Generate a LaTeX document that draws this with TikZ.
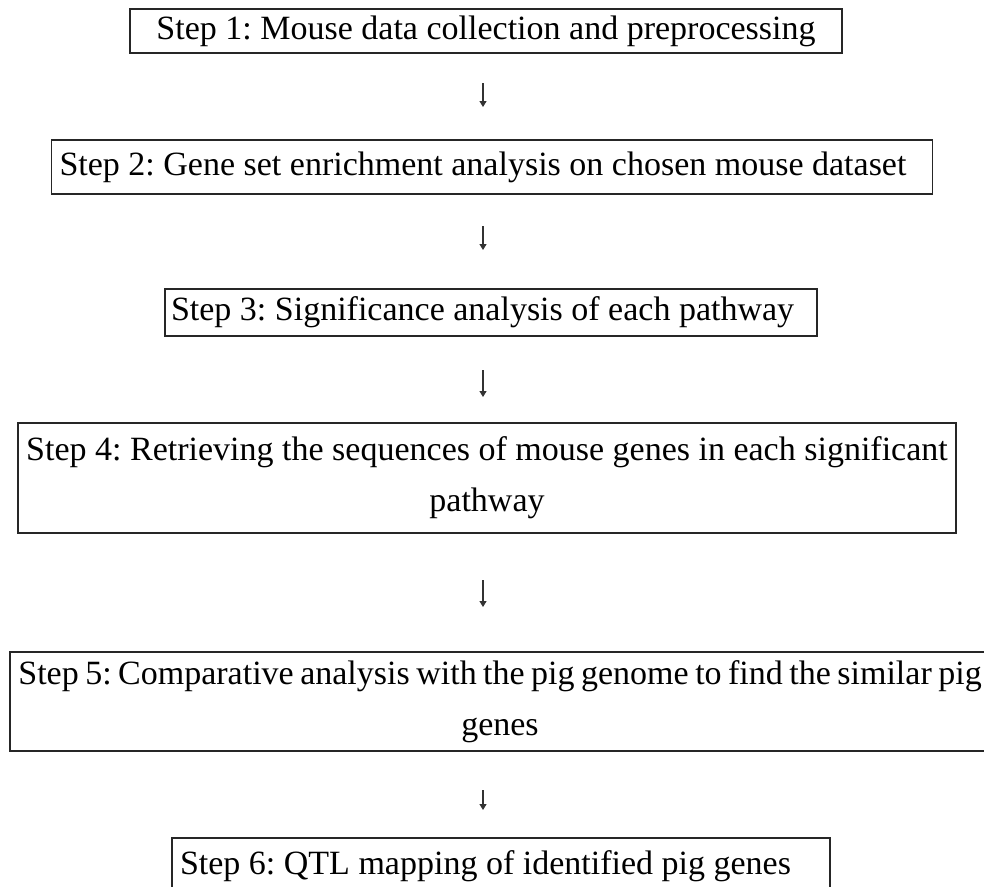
\documentclass[tikz,border=0pt]{standalone}
\usepackage{fontspec}
\setmainfont{Liberation Serif}
\usetikzlibrary{arrows.meta, positioning, calc}
\tikzset{
    >=Triangle,
    step_box/.style={
        rectangle,
        draw=black!85,
        line width=1.6pt,
        fill=white,
        inner xsep=8pt,
        inner ysep=0pt,
        outer sep=0pt,
        font=\fontsize{34}{51}\selectfont\frenchspacing,
        execute at begin node={\spaceskip=0pt\xspaceskip=0pt}
    },
    step_left/.style={
        step_box,
        align=left
    },
    step_center/.style={
        step_box,
        align=center
    },
    step_arrow/.style={
        -{Triangle[width=7pt, length=6pt]},
        line width=1.2pt,
        draw=black!80
    }
}

\begin{document}
\begin{tikzpicture}
\useasboundingbox (0pt,0pt) rectangle (984pt,-886pt);

% Steps
\node[step_center, minimum width=712pt, minimum height=44pt] (Collect) at (486pt,-31pt)
  {Step 1: Mouse data collection and preprocessing};
\node[step_left, text width=865pt, minimum height=54pt, below=87pt of Collect, xshift=6pt] (Enrich)
  {Step 2: Gene set enrichment analysis on chosen mouse dataset};
\node[step_left, inner xsep=6pt, text width=640pt, minimum height=47pt, below=95pt of Enrich, xshift=-1pt] (Signif)
  {Step 3: Significance analysis of each pathway};
\node[step_center, minimum width=935pt, minimum height=110pt, below=87pt of Signif, xshift=-4pt] (Retrieve)
  {Step 4: Retrieving the sequences of mouse genes in each significant\\pathway};
\node[step_center, minimum width=980pt, minimum height=99pt, below=119pt of Retrieve, xshift=13pt] (Compare)
  {{\spaceskip=0.19em Step 5: Comparative analysis with the pig genome to find the similar pig}\\genes};
\node[step_left, text width=642pt, minimum height=56pt, below=87pt of Compare, xshift=1pt] (Mapping)
  {Step 6: QTL mapping of identified pig genes};

% Arrows
\coordinate (ax) at (483pt,0pt);
\draw[step_arrow, shorten <=30pt, shorten >=33pt] (Collect.south -| ax) -- (Enrich.north -| ax);
\draw[step_arrow, shorten <=32pt, shorten >=39pt] (Enrich.south -| ax) -- (Signif.north -| ax);
\draw[step_arrow, shorten <=34pt, shorten >=26pt] (Signif.south -| ax) -- (Retrieve.north -| ax);
\draw[step_arrow, shorten <=47pt, shorten >=45pt] (Retrieve.south -| ax) -- (Compare.north -| ax);
\draw[step_arrow, shorten <=39pt, shorten >=28pt] (Compare.south -| ax) -- (Mapping.north -| ax);

\end{tikzpicture}
\end{document}
